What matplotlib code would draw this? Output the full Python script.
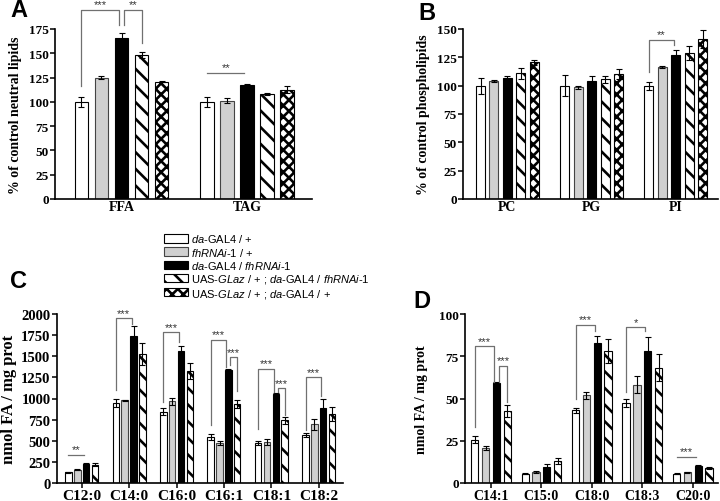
import numpy as np
import matplotlib
matplotlib.use('Agg')
import matplotlib.pyplot as plt
from matplotlib.patches import Patch

plt.rcParams['font.family'] = 'Liberation Serif'
plt.rcParams['mathtext.fontset'] = 'custom'
plt.rcParams['mathtext.rm'] = 'Liberation Sans'
plt.rcParams['mathtext.it'] = 'Liberation Sans:italic'
plt.rcParams['hatch.linewidth'] = 1.9

# genotype legend labels
labels = [r'$\it{da}$-GAL4 / +',
          r'$\it{fhRNAi}$-$\it{1}$ / +',
          r'$\it{da}$-GAL4 / $\it{fhRNAi}$-$\it{1}$',
          r'UAS-$\it{GLaz}$ / + ; $\it{da}$-GAL4 / $\it{fhRNAi}$-$\it{1}$',
          r'UAS-$\it{GLaz}$ / + ; $\it{da}$-GAL4 / +']

# panel A: neutral lipids (% of control)
a_cats = ['FFA', 'TAG']
a_mean = [[100, 100], [125, 101], [166, 117.5], [148, 108], [120.5, 112.5]]
a_err = [[5.5, 5.5], [1.5, 2.5], [4.5, 1], [3, 1], [0.5, 3.5]]

# panel B: phospholipids (% of control)
b_cats = ['PC', 'PG', 'PI']
b_mean = [[100, 100, 100], [104, 98.5, 116.5], [107, 104.5, 127],
          [111, 105.5, 129], [120.5, 110.5, 141]]
b_err = [[7, 9.5, 3.5], [0.8, 1.5, 0.7], [1.8, 4.4, 4.4], [5, 3.3, 6], [2.5, 4.4, 8]]

# panel C: fatty acids (nmol FA / mg prot)
c_cats = ['C12:0', 'C14:0', 'C16:0', 'C16:1', 'C18:1', 'C18:2']
c_mean = [[130, 949, 846, 543, 476, 571],
          [157, 980, 968, 476, 484, 693],
          [228, 1744, 1559, 1343, 1055, 890],
          [216, 1527, 1323, 937, 740, 819]]
c_err = [[6, 48, 40, 35, 25, 25],
         [4, 8, 40, 25, 35, 60],
         [8, 118, 67, 12, 15, 100],
         [15, 127, 95, 45, 45, 85]]

# panel D
d_cats = ['C14:1', 'C15:0', 'C18:0', 'C18:3', 'C20:0']
d_mean = [[25.6, 5.5, 42.9, 47.2, 5.5],
          [20.7, 6.5, 51.8, 58.1, 6.5],
          [59.3, 9.3, 82.7, 78.3, 10.2],
          [42.5, 12.8, 78.3, 68.1, 8.9]]
d_err = [[2, 0.3, 1.4, 2.5, 0.3],
         [1.2, 0.4, 2, 5, 0.3],
         [0.2, 2, 4, 8, 0.2],
         [3.4, 1.8, 7, 8, 0.5]]

# significance: (group, bar_i, bar_j, y_top, y_left_end, y_right_end, stars)
a_sig = [(0, 0, 2, 195, 116, 179, '***'), (0, 2, 3, 195, 179, 161, '**'),
         (1, 0, 2, 130, 130, 130, '**')]
b_sig = [(2, 0, 2, 140.6, 112, 136, '**')]
c_sig = [(0, 0, 2, 335, 335, 335, '**'), (1, 0, 2, 1949, 1106, 1880, '***'),
         (2, 0, 2, 1783, 957, 1665, '***'), (3, 0, 2, 1697, 681, 1370, '***'),
         (3, 2, 3, 1488, 1398, 1083, '***'), (4, 0, 2, 1350, 642, 1080, '***'),
         (4, 2, 3, 1122, 1080, 800, '***'), (5, 0, 2, 1252, 622, 1035, '***')]
d_sig = [(0, 0, 2, 80.9, 33, 60, '***'), (0, 2, 3, 69.5, 60, 47.8, '***'),
         (2, 0, 2, 93.5, 49.8, 90.2, '***'), (3, 0, 2, 92.1, 54, 90.2, '*'),
         (4, 0, 2, 15.4, 15.4, 15.4, '***')]

styles = [dict(color='white', edgecolor='black', hatch=None),
          dict(color='#d0d0d0', edgecolor='#444444', hatch=None),
          dict(color='black', edgecolor='black', hatch=None),
          dict(color='white', edgecolor='black', hatch='\\\\'),
          dict(color='white', edgecolor='black', hatch='xxx')]


def offsets(n, step):
    return (np.arange(n) - (n - 1) / 2) * step


def draw_panel(ax, cats, means, errs, step, width, ylim, yticks, ylabel, xticklen, sig, gap,
               fs=(9.5, 10, 10)):
    x = np.arange(len(cats))
    offs = offsets(len(means), step)
    for k, (m, e) in enumerate(zip(means, errs)):
        st = styles[k]
        ax.bar(x + offs[k], m, width, color=st['color'], edgecolor=st['edgecolor'],
               hatch=st['hatch'], linewidth=0.8, zorder=2)
        ax.errorbar(x + offs[k], m, yerr=e, fmt='none', ecolor='black',
                    elinewidth=0.8, capsize=2.5, capthick=0.8, zorder=3)
    for g, i, j, top, yl, yr, stars in sig:
        x1 = g + offs[i]
        x2 = g + offs[j]
        if i == 2:
            x1 += gap
        if j == 2:
            x2 -= gap
        ax.plot([x1, x1, x2, x2], [yl, top, top, yr], color='#707070',
                lw=0.9, clip_on=False, zorder=4)
        ax.text((x1 + x2) / 2, top + (ylim[1] - ylim[0]) * 0.003, stars,
                ha='center', va='bottom', fontsize=8, family='Liberation Sans',
                color='#333333', clip_on=False)
    ax.set_ylim(*ylim)
    ax.set_yticks(yticks)
    ax.set_xticks(x)
    ax.set_xticklabels(cats, fontweight='bold', fontsize=fs[1])
    ax.tick_params(axis='y', labelsize=fs[0], width=1.1, length=3.5, pad=1)
    for t in ax.get_yticklabels():
        t.set_fontweight('bold')
    ax.tick_params(axis='x', width=1.1, length=xticklen, pad=1)
    ax.spines['top'].set_visible(False)
    ax.spines['right'].set_visible(False)
    ax.spines['left'].set_linewidth(1.2)
    ax.spines['bottom'].set_linewidth(1.2)
    ax.set_ylabel(ylabel, fontweight='bold', fontsize=fs[2])


fig = plt.figure(figsize=(7.2, 5.02), dpi=100)
W, H = 720, 502


def px_axes(x0, x1, ytop, ybot):
    return fig.add_axes([x0 / W, 1 - ybot / H, (x1 - x0) / W, (ybot - ytop) / H])


axA = px_axes(55, 312, 30, 200)
draw_panel(axA, a_cats, a_mean, a_err, 0.16, 0.107, (0, 175), np.arange(0, 176, 25),
           '% of control neutral lipids', 0, a_sig, 0.02)
axA.set_xlim(-0.53, 1.518)
axA.yaxis.set_label_coords(-0.128, 0.5)

axB = px_axes(463, 718, 30, 200)
draw_panel(axB, b_cats, b_mean, b_err, 0.16, 0.107, (0, 150), np.arange(0, 151, 25),
           '% of control phospholipids', 0, b_sig, 0.02)
axB.set_xlim(-0.528, 2.5)
axB.yaxis.set_label_coords(-0.129, 0.5)

axC = px_axes(56.7, 343, 315, 484)
draw_panel(axC, c_cats, c_mean, c_err, 0.186, 0.137, (0, 2000), np.arange(0, 2001, 250),
           'nmol FA / mg prot', 3.5, c_sig, 0.04, fs=(10.5, 11, 12))
axC.set_xlim(-0.527, 5.51)
axC.yaxis.set_label_coords(-0.139, 0.5)

axD = px_axes(465, 718, 315, 484)
draw_panel(axD, d_cats, d_mean, d_err, 0.214, 0.145, (0, 100), np.arange(0, 101, 25),
           'nmol FA / mg prot', 3.5, d_sig, 0.05)
axD.set_xlim(-0.515, 4.5)
axD.yaxis.set_label_coords(-0.146, 0.5)

# panel letters
for lx, ly, letter in [(10, 17, 'A'), (418, 20, 'B'), (10, 288, 'C'), (413, 308, 'D')]:
    fig.text(lx / W, 1 - ly / H, letter, fontsize=17, fontweight='bold',
             family='Liberation Sans', ha='left', va='baseline')

handles = [Patch(facecolor=st['color'], edgecolor=st['edgecolor'], hatch=st['hatch'],
                 linewidth=0.8) for st in styles]
fig.legend(handles, labels, loc='upper left', bbox_to_anchor=(162 / W, 1 - 231 / H),
           frameon=False, prop={'family': 'Liberation Sans', 'size': 8},
           handlelength=2.1, handleheight=0.8, handletextpad=0.3,
           labelspacing=0.12, borderpad=0.2, borderaxespad=0)

fig.savefig('out.png', dpi=100)
